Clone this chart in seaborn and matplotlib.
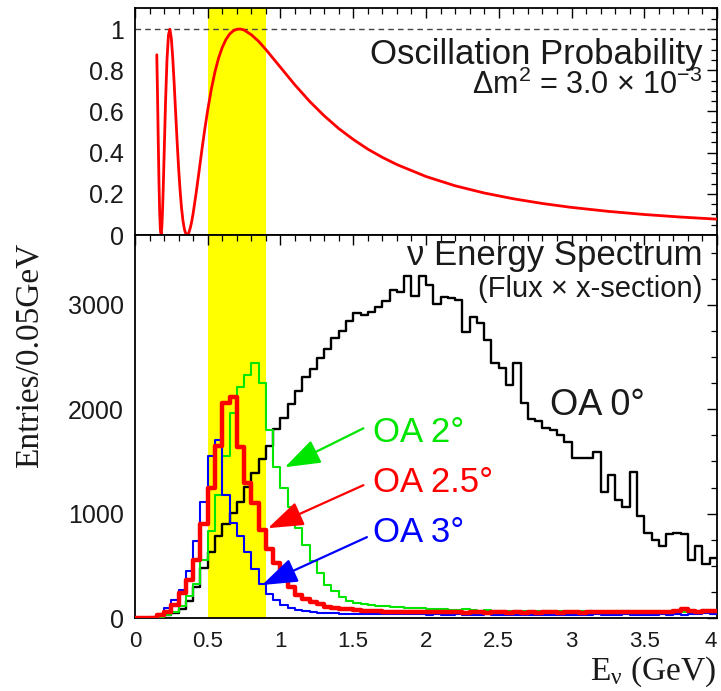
import numpy as np
import pandas as pd
import matplotlib
matplotlib.use("Agg")
import matplotlib.pyplot as plt
import seaborn as sns
from matplotlib.ticker import MultipleLocator, FixedLocator, FixedFormatter

# ---------------- data ----------------
# oscillation probability curve
osc_energy = [0.15, 0.155, 0.16, 0.165, 0.17, 0.175, 0.18, 0.185, 0.19, 0.195,
              0.20, 0.21, 0.22, 0.23, 0.24, 0.25, 0.26, 0.27, 0.28, 0.29,
              0.30, 0.31, 0.32, 0.33, 0.34, 0.35, 0.36, 0.37, 0.38, 0.39,
              0.40, 0.42, 0.44, 0.46, 0.48, 0.50, 0.525, 0.55, 0.575, 0.60,
              0.625, 0.65, 0.675, 0.70, 0.725, 0.75, 0.80, 0.85, 0.90, 0.95,
              1.0, 1.1, 1.2, 1.3, 1.4, 1.5, 1.6, 1.7, 1.8, 2.0,
              2.2, 2.4, 2.6, 2.8, 3.0, 3.25, 3.5, 3.75, 4.0]
osc_prob = [0.875, 0.679, 0.457, 0.255, 0.104, 0.020, 0.002, 0.042, 0.129, 0.246,
            0.379, 0.643, 0.851, 0.970, 0.999, 0.954, 0.855, 0.727, 0.587, 0.449,
            0.324, 0.217, 0.131, 0.068, 0.027, 0.005, 0.000, 0.011, 0.034, 0.066,
            0.106, 0.202, 0.307, 0.414, 0.515, 0.607, 0.709, 0.793, 0.860, 0.911,
            0.949, 0.975, 0.991, 0.999, 1.000, 0.995, 0.972, 0.940, 0.900, 0.857,
            0.814, 0.728, 0.649, 0.579, 0.517, 0.464, 0.417, 0.377, 0.342, 0.284,
            0.239, 0.204, 0.176, 0.153, 0.134, 0.115, 0.0996, 0.0872, 0.0769]

# histogram bins: 0.05 GeV from 0 to 4 GeV
bin_edges = [round(0.05 * i, 2) for i in range(81)]

oa0 = [0, 0, 5, 15, 30, 45, 90, 160, 300, 480,
       630, 790, 900, 1010, 1110, 1260, 1390, 1520, 1650, 1810,
       1920, 2050, 2180, 2310, 2390, 2490, 2580, 2680, 2750, 2850,
       2920, 2900, 2930, 2980, 3040, 3140, 3120, 3280, 3090, 3280,
       3190, 3010, 3080, 3070, 3050, 2740, 2880, 2830, 2660, 2440,
       2400, 2230, 2440, 2060, 1910, 1890, 1820, 1800, 1750, 1690,
       1530, 1530, 1530, 1590, 1210, 1370, 1130, 1065, 1400, 975,
       810, 745, 690, 805, 815, 805, 560, 690, 520, 575]

oa2 = [0, 0, 3, 10, 25, 60, 120, 210, 330, 560,
       830, 1180, 1550, 1960, 2210, 2330, 2440, 2250, 1800, 1450,
       1250, 1060, 860, 700, 545, 430, 320, 255, 200, 165,
       145, 135, 125, 118, 112, 108, 104, 100, 95, 92,
       90, 85, 88, 80, 78, 82, 75, 72, 78, 70,
       68, 72, 65, 68, 62, 66, 64, 60, 68, 62,
       60, 64, 66, 60, 62, 58, 64, 70, 62, 60,
       58, 62, 60, 58, 62, 60, 64, 70, 80, 66]

oa25 = [0, 0, 5, 29, 61, 124, 236, 364, 555, 900,
        1250, 1650, 2060, 2120, 1640, 1290, 1100, 840, 660, 530,
        420, 300, 225, 185, 155, 130, 110, 100, 90, 82,
        78, 72, 68, 65, 62, 60, 58, 60, 56, 58,
        55, 57, 54, 56, 55, 52, 55, 54, 52, 55,
        53, 52, 55, 50, 54, 52, 55, 53, 52, 56,
        54, 52, 55, 57, 54, 56, 55, 58, 60, 57,
        56, 60, 58, 62, 66, 85, 64, 62, 66, 64]

oa3 = [0, 0, 10, 40, 93, 172, 270, 450, 740, 1110,
       1550, 1705, 1180, 910, 790, 630, 470, 330, 235, 175,
       125, 95, 78, 66, 58, 52, 48, 45, 42, 40,
       38, 37, 36, 36, 35, 35, 34, 35, 34, 34,
       33, 34, 33, 33, 34, 33, 32, 33, 34, 33,
       32, 33, 32, 33, 32, 33, 32, 33, 33, 32,
       33, 32, 33, 34, 33, 32, 33, 34, 33, 33,
       32, 33, 34, 33, 34, 33, 34, 36, 45, 36]

band_lo, band_hi = 0.5, 0.9
x_ticks = [0, 0.5, 1, 1.5, 2, 2.5, 3, 3.5, 4]
x_tick_labels = ["0", "0.5", "1", "1.5", "2", "2.5", "3", "3.5", "4"]
p_ticks = [0, 0.2, 0.4, 0.6, 0.8, 1.0]
p_tick_labels = ["0", "0.2", "0.4", "0.6", "0.8", "1"]
n_ticks = [0, 1000, 2000, 3000]
n_tick_labels = ["0", "1000", "2000", "3000"]

# ---------------- style ----------------
sns.set_theme(style="white")
plt.rcParams["font.family"] = ["Liberation Sans", "DejaVu Sans"]
plt.rcParams["axes.edgecolor"] = "black"
plt.rcParams["axes.linewidth"] = 1.3

GREEN = "#00e600"
RED = "#ff0000"
BLUE = "#0000ff"
TXT = "#1a1a1a"

fig = plt.figure(figsize=(7.21, 6.91), dpi=100)
ax1 = fig.add_axes([0.1872, 0.6599, 0.8073, 0.3285])
ax2 = fig.add_axes([0.1872, 0.1056, 0.8073, 0.5543])

for ax in (ax1, ax2):
    ax.axvspan(band_lo, band_hi, color="#ffff00", lw=0, zorder=0)

# ---- top panel ----
ax1.axhline(1.0, color="#444444", lw=1.0, ls=(0, (4, 3)), zorder=1)
osc_df = pd.DataFrame({"E": osc_energy, "P": osc_prob})
sns.lineplot(data=osc_df, x="E", y="P", ax=ax1, color=RED, lw=2.0, zorder=3)
ax1.set_xlim(0, 4)
ax1.set_ylim(0, 1.102)
ax1.set_xlabel("")
ax1.set_ylabel("")
ax1.yaxis.set_major_locator(FixedLocator(p_ticks))
ax1.yaxis.set_major_formatter(FixedFormatter(p_tick_labels))
ax1.yaxis.set_minor_locator(MultipleLocator(0.05))
ax1.xaxis.set_major_locator(MultipleLocator(0.5))
ax1.xaxis.set_minor_locator(MultipleLocator(0.1))
ax1.tick_params(axis="x", labelbottom=False)

ax1.text(3.9, 0.875, "Oscillation Probability", ha="right", va="center",
         fontsize=25, color=TXT)
ax1.text(3.9, 0.728, r"Δm$^{\mathregular{2}}$ = 3.0 × 10$^{\mathregular{-3}}$",
         ha="right", va="center", fontsize=22, color=TXT)

# ---- bottom panel ----
centers = [(a + b) / 2 for a, b in zip(bin_edges[:-1], bin_edges[1:])]
series = [("OA 0", oa0, "black", 1.7, 2), ("OA 2", oa2, GREEN, 1.5, 3),
          ("OA 3", oa3, BLUE, 1.5, 4), ("OA 2.5", oa25, RED, 3.2, 5)]
for name, vals, col, lw, z in series:
    hdf = pd.DataFrame({"E": centers, "w": [float(v) for v in vals]})
    sns.histplot(data=hdf, x="E", weights="w", bins=bin_edges, element="step",
                 fill=False, color=col, linewidth=lw, ax=ax2, zorder=z)
ax2.set_xlim(0, 4)
ax2.set_ylim(0, 3670)
ax2.set_xlabel("")
ax2.set_ylabel("")
ax2.xaxis.set_major_locator(FixedLocator(x_ticks))
ax2.xaxis.set_major_formatter(FixedFormatter(x_tick_labels))
ax2.xaxis.set_minor_locator(MultipleLocator(0.1))
ax2.yaxis.set_major_locator(FixedLocator(n_ticks))
ax2.yaxis.set_major_formatter(FixedFormatter(n_tick_labels))
ax2.yaxis.set_minor_locator(MultipleLocator(250))

for ax in (ax1, ax2):
    ax.tick_params(which="both", direction="in", top=True, right=True, colors="black",
                   labelcolor=TXT)
    ax.tick_params(which="major", length=7, width=1.0)
    ax.tick_params(which="minor", length=4, width=0.9)
    ax.tick_params(axis="y", labelsize=18, pad=8)
    ax.tick_params(axis="x", labelsize=16, pad=9)
    for s in ax.spines.values():
        s.set_visible(True)
        s.set_color("black")
        s.set_linewidth(1.3)
    ax.set_facecolor("white")

# keep the last x tick label inside the canvas
ax2.xaxis.get_major_ticks()[-1].label1.set_horizontalalignment("right")

ax2.text(3.9, 3470, "ν Energy Spectrum", ha="right", va="center", fontsize=25, color=TXT)
ax2.text(3.9, 3150, "(Flux × x-section)", ha="right", va="center", fontsize=21, color=TXT)

ax2.text(2.85, 2040, "OA 0°", ha="left", va="center", fontsize=26, color=TXT)
ax2.text(1.636, 1780, "OA 2°", ha="left", va="center", fontsize=25, color=GREEN)
ax2.text(1.636, 1300, "OA 2.5°", ha="left", va="center", fontsize=25, color=RED)
ax2.text(1.636, 820, "OA 3°", ha="left", va="center", fontsize=25, color=BLUE)

arrow_specs = [((1.03, 1445), (1.57, 1818), GREEN),
               ((0.914, 861), (1.57, 1273), RED),
               ((0.873, 316), (1.594, 775), BLUE)]
for head, tail, col in arrow_specs:
    ax2.annotate("", xy=head, xytext=tail,
                 arrowprops=dict(arrowstyle="-|>,head_length=1.0,head_width=0.35",
                                 color=col, lw=1.6, mutation_scale=22,
                                 shrinkA=0, shrinkB=0), zorder=6)

fig.text(0.040, 1 - 355 / 691, "Entries/0.05GeV", rotation=90, ha="center", va="center",
         fontsize=24, family="Liberation Serif", color=TXT)
fig.text(716 / 721, 1 - 672 / 691, r"$\mathregular{E_{ν}}$ (GeV)", ha="right", va="center",
         fontsize=24, family="Liberation Serif", color=TXT)

fig.savefig("out.png", dpi=100, facecolor="white")
